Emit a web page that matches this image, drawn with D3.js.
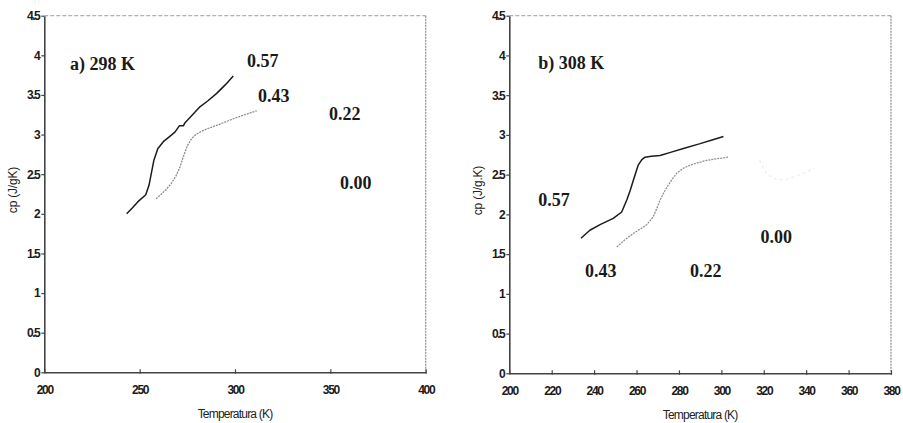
<!DOCTYPE html>
<html>
<head>
<meta charset="utf-8">
<script src="https://cdn.jsdelivr.net/npm/d3@7"></script>
<style>
  html, body { margin: 0; padding: 0; background: #fff; }
  svg { display: block; }
</style>
</head>
<body>
<svg id="chart" width="903" height="423"></svg>
<script>
// ---------------- DATA ----------------
// Panel a) 298 K
const aX057 = [243.2, 246, 249, 253.2, 254.9, 256.2, 257.5, 259.5, 262.4, 265.5, 268.5, 270.8, 272.9, 273.8, 277, 281.6, 286, 290.4, 295, 299.1];
const aY057 = [2.00, 2.07, 2.15, 2.24, 2.36, 2.52, 2.68, 2.82, 2.91, 2.97, 3.03, 3.11, 3.11, 3.15, 3.23, 3.35, 3.43, 3.52, 3.63, 3.74];
const aX043 = [258.6, 261, 263.6, 266.5, 268.9, 271, 272.9, 275, 277.3, 279.5, 281.6, 285, 288.6, 294, 299.1, 305, 311.4];
const aY043 = [2.19, 2.24, 2.30, 2.38, 2.47, 2.58, 2.72, 2.86, 2.95, 3.00, 3.03, 3.07, 3.10, 3.15, 3.20, 3.25, 3.30];

// Panel b) 308 K
const bX057 = [233.8, 238, 242.8, 249, 253, 255.4, 257, 258.5, 260.8, 262.5, 264, 267, 271.1, 276, 282.1, 290, 296, 301];
const bY057 = [1.70, 1.80, 1.87, 1.95, 2.03, 2.18, 2.30, 2.43, 2.62, 2.69, 2.72, 2.73, 2.74, 2.78, 2.83, 2.89, 2.94, 2.98];
const bX043 = [250.7, 254.5, 258.5, 262, 264.8, 267.9, 269.5, 271.1, 273, 275, 277, 279, 282, 285.3, 289, 293.1, 298, 303.3];
const bY043 = [1.59, 1.68, 1.76, 1.82, 1.87, 1.97, 2.07, 2.18, 2.28, 2.37, 2.45, 2.52, 2.58, 2.62, 2.65, 2.68, 2.70, 2.72];
const bX022 = [318, 321.5, 326, 330, 337, 344];
const bY022 = [2.68, 2.50, 2.44, 2.43, 2.50, 2.58];

// Axes
const aXTicks = [200, 250, 300, 350, 400];
const bXTicks = [200, 220, 240, 260, 280, 300, 320, 340, 360, 380];
const yTicks = [0, 0.5, 1, 1.5, 2, 2.5, 3, 3.5, 4, 4.5];
const yTickLabels = ["0", "0.5", "1", "1.5", "2", "2.5", "3", "3.5", "4", "4.5"];
const xTitle = "Temperatura (K)";
const aYTitle = "cp (J/gK)";
const bYTitle = "cp (J/g.K)";

// Annotations (text, data x, data y)
const aLabels = ["a) 298 K", "0.57", "0.43", "0.22", "0.00"];
const aLabelX = [213.5, 306.3, 312.1, 349.3, 355.1];
const aLabelY = [3.81, 3.85, 3.41, 3.18, 2.31];
const bLabels = ["b) 308 K", "0.57", "0.43", "0.22", "0.00"];
const bLabelX = [213.7, 213.7, 235.7, 285.2, 318.5];
const bLabelY = [3.83, 2.10, 1.215, 1.215, 1.64];

// ---------------- DRAW ----------------
const svg = d3.select("#chart");
const zip = (xs, ys) => xs.map((x, i) => ({x, y: ys[i]}));

function panel(cfg) {
  const x = d3.scaleLinear().domain(cfg.xDomain).range([cfg.left, cfg.right]);
  const y = d3.scaleLinear().domain([0, 4.5]).range([cfg.bottom, cfg.top]);
  const g = svg.append("g");

  // dotted top & right frame
  g.append("line").attr("x1", cfg.left).attr("x2", cfg.right).attr("y1", cfg.top).attr("y2", cfg.top)
    .attr("stroke", "#b0b0b0").attr("stroke-width", 1.2).attr("stroke-dasharray", "4,2");
  g.append("line").attr("x1", cfg.right).attr("x2", cfg.right).attr("y1", cfg.top).attr("y2", cfg.bottom)
    .attr("stroke", "#8a8a8a").attr("stroke-width", 1.2).attr("stroke-dasharray", "2,1");

  // x axis
  const xa = g.append("g").attr("transform", `translate(0,${cfg.bottom})`)
    .call(d3.axisBottom(x).tickValues(cfg.xTicks).tickSize(3).tickSizeOuter(0).tickFormat(d3.format("d")));
  xa.select(".domain").attr("stroke", "#444").attr("stroke-width", 1.6);
  xa.selectAll(".tick line").attr("stroke", "#444").attr("stroke-width", 1.2).attr("y2", -3).attr("y1", 1.5);
  xa.selectAll(".tick text").attr("y", 13).attr("dy", "0.71em")
    .attr("font-family", "Liberation Sans, Arial, sans-serif").attr("font-size", 12)
    .attr("letter-spacing", "-1.3px").attr("fill", "#1a1a1a").attr("font-weight", "bold");

  // y axis
  const ya = g.append("g").attr("transform", `translate(${cfg.left},0)`)
    .call(d3.axisLeft(y).tickValues(yTicks).tickSize(3).tickSizeOuter(0)
      .tickFormat((d, i) => yTickLabels[i]));
  ya.select(".domain").attr("stroke", "#444").attr("stroke-width", 1.6);
  ya.selectAll(".tick line").attr("stroke", "#444").attr("stroke-width", 1.2);
  ya.selectAll(".tick text").attr("x", -5)
    .attr("font-family", "Liberation Sans, Arial, sans-serif").attr("font-size", 12)
    .attr("letter-spacing", "-1.5px").attr("fill", "#1a1a1a").attr("font-weight", "bold");

  // axis titles
  g.append("text").attr("x", (cfg.left + cfg.right) / 2).attr("y", cfg.bottom + 46)
    .attr("text-anchor", "middle").attr("font-family", "Liberation Sans, Arial, sans-serif")
    .attr("font-size", 12).attr("letter-spacing", "-0.8px").attr("fill", "#222").text(xTitle);
  g.append("text").attr("transform", `translate(${cfg.left - 27},${y(2.3)}) rotate(-90)`)
    .attr("text-anchor", "middle").attr("font-family", "Liberation Sans, Arial, sans-serif")
    .attr("font-size", 12).attr("letter-spacing", "-0.2px").attr("fill", "#222").text(cfg.yTitle);

  // series
  const line = d3.line().x(d => x(d.x)).y(d => y(d.y)).curve(d3.curveLinear);
  cfg.series.forEach(s => {
    g.append("path").datum(s.data).attr("d", line).attr("fill", "none")
      .attr("stroke", s.color).attr("stroke-width", s.width)
      .attr("stroke-dasharray", s.dash || null).attr("stroke-linejoin", "round");
  });

  // annotations
  cfg.labels.forEach((t, i) => {
    g.append("text").attr("x", x(cfg.labelX[i])).attr("y", y(cfg.labelY[i]))
      .attr("font-family", "Liberation Serif, Times New Roman, serif").attr("font-weight", "bold")
      .attr("font-size", 18).attr("fill", "#1a1a1a").text(t);
  });
}

panel({
  left: 44.3, right: 425.7, top: 15.7, bottom: 372.3,
  xDomain: [200, 400], xTicks: aXTicks, yTitle: aYTitle,
  series: [
    {data: zip(aX057, aY057), color: "#1c1c1c", width: 1.5},
    {data: zip(aX043, aY043), color: "#8c8c8c", width: 1.3, dash: "2,1"}
  ],
  labels: aLabels, labelX: aLabelX, labelY: aLabelY
});

panel({
  left: 509.3, right: 891, top: 15.7, bottom: 373.3,
  xDomain: [200, 380], xTicks: bXTicks, yTitle: bYTitle,
  series: [
    {data: zip(bX057, bY057), color: "#1c1c1c", width: 1.5},
    {data: zip(bX043, bY043), color: "#909090", width: 1.3, dash: "2,1"},
    {data: zip(bX022, bY022), color: "#ececec", width: 1.2, dash: "3,3"}
  ],
  labels: bLabels, labelX: bLabelX, labelY: bLabelY
});
</script>
</body>
</html>
